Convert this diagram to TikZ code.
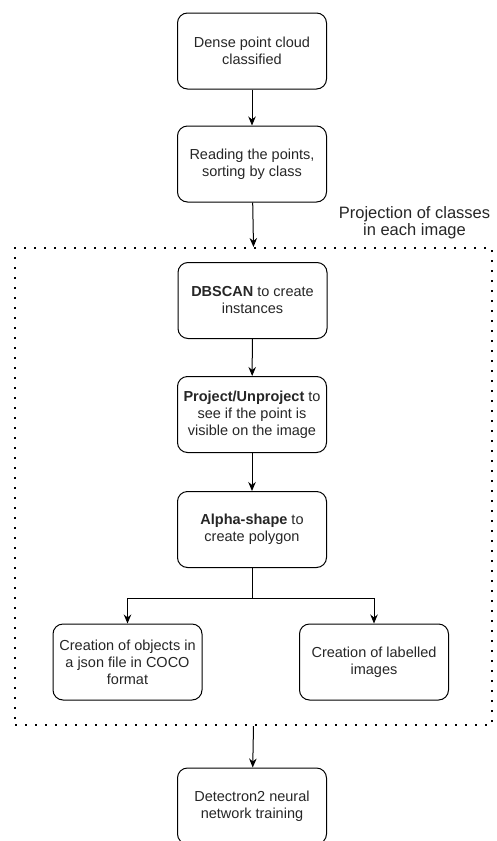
\documentclass[tikz,border=0pt]{standalone}
\usepackage{fontspec}
\setmainfont{Liberation Sans}
\usetikzlibrary{arrows.meta}
\begin{document}
\begin{tikzpicture}[x=1pt,y=-1pt,
  stepbox/.style={draw, line width=1pt, rounded corners=10pt, minimum width=149pt, minimum height=76pt, align=center, font=\fontsize{14.5}{17}\selectfont, text=black!85, inner sep=1pt},
  arr/.style={-{Stealth[length=9pt,width=7.5pt]}, line width=1pt},
  frame/.style={draw, line width=2pt, dash pattern=on 2pt off 8pt, minimum width=477pt, minimum height=477pt, inner sep=0pt}]
\useasboundingbox (0,0) rectangle (496,841);
\node[frame] (fr) at (253.5,486.5) {};
\node[stepbox] (b1) at (252,51) {Dense point cloud\\classified};
\node[stepbox] (b2) at (252,164) {Reading the points,\\sorting by class};
\node[stepbox] (b3) at (252.5,300.5) {\textbf{DBSCAN} to create\\instances};
\node[stepbox] (b4) at (252,414.5) {\textbf{Project/Unproject} to\\see if the point is\\visible on the image};
\node[stepbox] (b5) at (252,529.5) {\textbf{Alpha-shape} to\\create polygon};
\node[stepbox] (b6) at (127.5,662) {Creation of objects in\\a json file in COCO\\format};
\node[stepbox] (b7) at (374,662) {Creation of labelled\\images};
\node[stepbox] (b8) at (252,806) {Detectron2 neural\\network training};
\node[align=center, font=\fontsize{16.5}{17}\selectfont, text=black!85] (lbl) at (414.5,223) {Projection of classes\\in each image};
\draw[arr] (b1) -- (b2);
\draw[arr] (b2) -- (fr.north);
\draw[arr] (b3) -- (b4);
\draw[arr] (b4) -- (b5);
\draw[arr] (b5.south) -- ++(0,30) -| (b6.north);
\draw[arr] (b5.south) -- ++(0,30) -| (b7.north);
\draw[arr] (fr.south) -- (b8);
\end{tikzpicture}
\end{document}
